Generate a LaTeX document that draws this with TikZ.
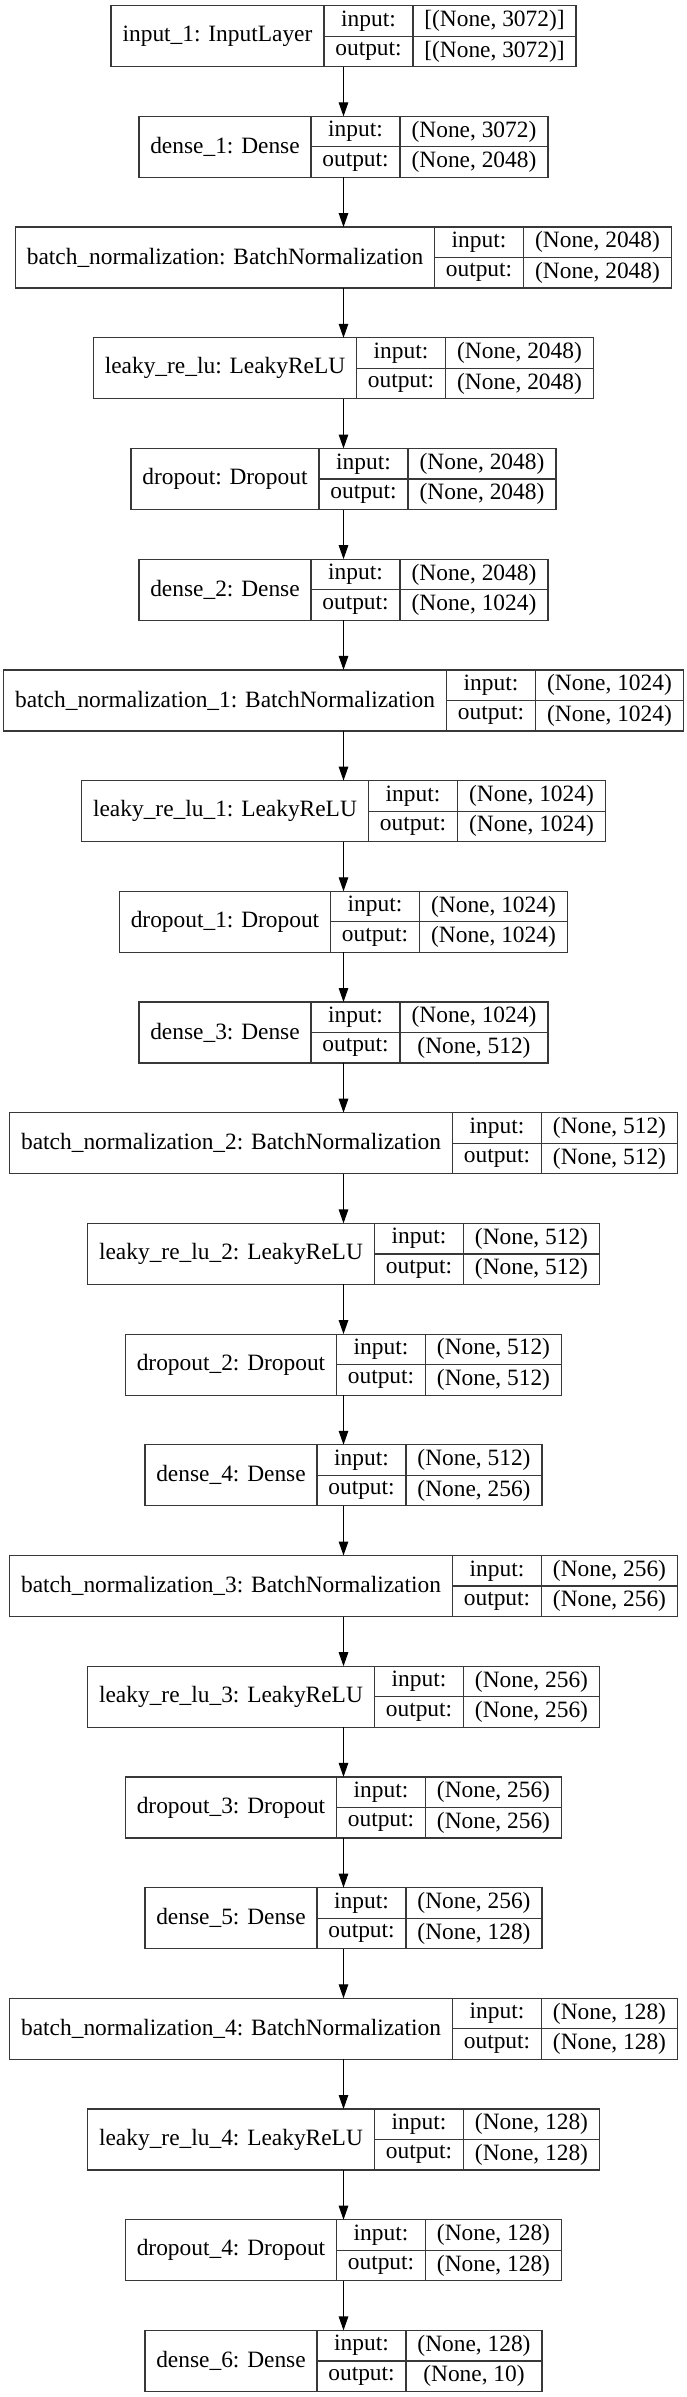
\documentclass[tikz,border=0pt]{standalone}
\usepackage{fontspec}
\setmainfont{Liberation Serif}
\usetikzlibrary{arrows.meta}
\newcommand\lyrfont{\normalfont\fontsize{23.4}{28}\selectfont}
\newlength\lwa \newlength\lwb \newlength\lwc \newlength\lwd
\def\cpad{11.5pt}
\tikzset{
  boxframe/.style={inner sep=0pt, outer sep=0pt, minimum height=61pt},
  cell/.style={draw=black!78, line width=1.2pt, inner sep=0pt, outer sep=0pt, font=\lyrfont, text=black, align=center},
  halfcell/.style={cell, minimum height=30.5pt},
  conn/.style={draw=black, line width=1.2pt, -{Triangle[length=14pt,width=9.5pt]}}
}
\newcommand\measure[4]{%
  \begingroup
  \pgfinterruptpicture
  \setbox0=\hbox{\lyrfont #1}\global\lwa=\wd0
  \setbox0=\hbox{\lyrfont output:}\global\lwb=\wd0
  \setbox0=\hbox{\lyrfont #2}\global\lwc=\wd0
  \setbox0=\hbox{\lyrfont #3}\global\lwd=\wd0
  \endpgfinterruptpicture
  \endgroup
}
\newcommand\layer[5]{%
  \measure{#2}{#3}{#4}{}%
  \ifdim\lwd>\lwc \lwc=\lwd\fi
  \pgfmathsetlengthmacro\wa{round(\lwa+2*\cpad)}%
  \pgfmathsetlengthmacro\wb{round(\lwb+2*\cpad)}%
  \pgfmathsetlengthmacro\wc{round(\lwc+2*\cpad)}%
  \pgfmathsetlengthmacro\tw{\wa+\wb+\wc}%
  \pgfmathsetmacro\ly{-(5.7+#1*110.7)}%
  \node[boxframe, minimum width=\tw, anchor=north] (#5) at (343.5,\ly) {};
  \node[cell, minimum width=\wa, minimum height=61pt, anchor=north west] (#5n) at (#5.north west) {#2};
  \node[halfcell, minimum width=\wb, anchor=north west] (#5i) at (#5n.north east) {input:};
  \node[halfcell, minimum width=\wb, anchor=north west] (#5o) at (#5i.south west) {output:};
  \node[halfcell, minimum width=\wc, anchor=north west] (#5iv) at (#5i.north east) {#3};
  \node[halfcell, minimum width=\wc, anchor=north west] (#5ov) at (#5iv.south west) {#4};
}
\begin{document}
\begin{tikzpicture}[x=1pt,y=1pt]
\useasboundingbox[fill=white] (0,0) rectangle (687,-2397);
\layer{0}{input\_1: InputLayer}{[(None, 3072)]}{[(None, 3072)]}{L0}
\layer{1}{dense\_1: Dense}{(None, 3072)}{(None, 2048)}{L1}
\layer{2}{batch\_normalization: BatchNormalization}{(None, 2048)}{(None, 2048)}{L2}
\layer{3}{leaky\_re\_lu: LeakyReLU}{(None, 2048)}{(None, 2048)}{L3}
\layer{4}{dropout: Dropout}{(None, 2048)}{(None, 2048)}{L4}
\layer{5}{dense\_2: Dense}{(None, 2048)}{(None, 1024)}{L5}
\layer{6}{batch\_normalization\_1: BatchNormalization}{(None, 1024)}{(None, 1024)}{L6}
\layer{7}{leaky\_re\_lu\_1: LeakyReLU}{(None, 1024)}{(None, 1024)}{L7}
\layer{8}{dropout\_1: Dropout}{(None, 1024)}{(None, 1024)}{L8}
\layer{9}{dense\_3: Dense}{(None, 1024)}{(None, 512)}{L9}
\layer{10}{batch\_normalization\_2: BatchNormalization}{(None, 512)}{(None, 512)}{L10}
\layer{11}{leaky\_re\_lu\_2: LeakyReLU}{(None, 512)}{(None, 512)}{L11}
\layer{12}{dropout\_2: Dropout}{(None, 512)}{(None, 512)}{L12}
\layer{13}{dense\_4: Dense}{(None, 512)}{(None, 256)}{L13}
\layer{14}{batch\_normalization\_3: BatchNormalization}{(None, 256)}{(None, 256)}{L14}
\layer{15}{leaky\_re\_lu\_3: LeakyReLU}{(None, 256)}{(None, 256)}{L15}
\layer{16}{dropout\_3: Dropout}{(None, 256)}{(None, 256)}{L16}
\layer{17}{dense\_5: Dense}{(None, 256)}{(None, 128)}{L17}
\layer{18}{batch\_normalization\_4: BatchNormalization}{(None, 128)}{(None, 128)}{L18}
\layer{19}{leaky\_re\_lu\_4: LeakyReLU}{(None, 128)}{(None, 128)}{L19}
\layer{20}{dropout\_4: Dropout}{(None, 128)}{(None, 128)}{L20}
\layer{21}{dense\_6: Dense}{(None, 128)}{(None, 10)}{L21}
\foreach \a [count=\b from 1] in {0,...,20} {
  \draw[conn] (L\a.south) -- (L\b.north);
}
\end{tikzpicture}
\end{document}
